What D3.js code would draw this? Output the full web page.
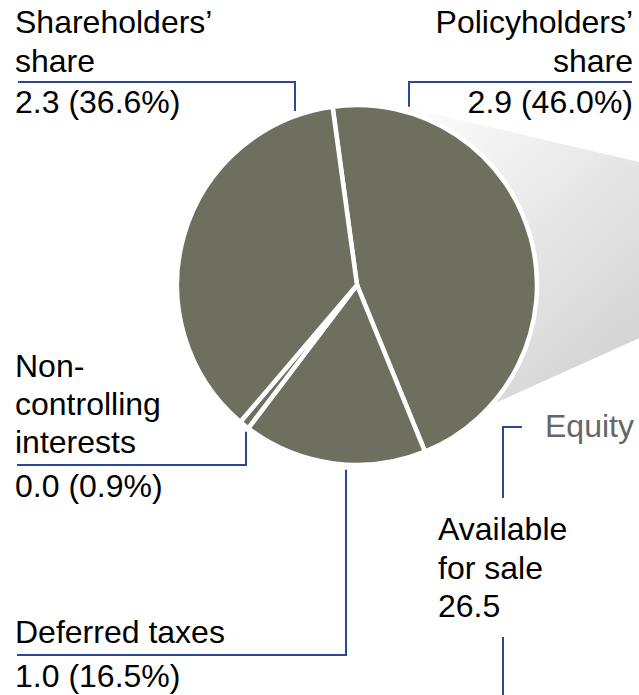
<!DOCTYPE html>
<html>
<head>
<meta charset="utf-8">
<script src="https://cdn.jsdelivr.net/npm/d3@7"></script>
<style>
  body { margin: 0; background: #fff; }
  text { font-family: "Liberation Sans", Arial, sans-serif; }
</style>
</head>
<body>
<div id="chart"></div>
<script>
// 1: DATA
const categories = ["Policyholders’ share", "Deferred taxes", "Non-controlling interests", "Shareholders’ share"];
const values = [2.9, 1.0, 0.0, 2.3];
const shares = [46.0, 16.5, 0.9, 36.6];
const equityLabel = "Equity";
const afsLabel = ["Available", "for sale"];
const afsValue = 26.5;

// 2: LAYOUT
const width = 639, height = 695;
const cx = 357, cy = 285, r = 180;
const pieColor = "#6e6f5f";
const lineColor = "#2b4796";
const fontSize = 32;

const svg = d3.select("#chart").append("svg")
    .attr("width", width)
    .attr("height", height);

// gradient "funnel" toward the equity bar (off to the right)
const defs = svg.append("defs");
const grad = defs.append("linearGradient")
    .attr("id", "funnel")
    .attr("gradientUnits", "userSpaceOnUse")
    .attr("x1", 420).attr("y1", 100)
    .attr("x2", 640).attr("y2", 340);
grad.append("stop").attr("offset", 0).attr("stop-color", "#fdfdfd");
grad.append("stop").attr("offset", 1).attr("stop-color", "#d4d4d4");

const lineTop = x => 127 + (x - 490) * 0.235;
const lineBot = x => 400 - (x - 502) * 0.45;
const farX = 720;
svg.append("path")
    .attr("d", d3.line()([
        [cx, cy],
        [395, lineTop(395)],
        [farX, lineTop(farX)],
        [farX, lineBot(farX)],
        [480, lineBot(480)]
    ]) + "Z")
    .attr("fill", "url(#funnel)");

// 3: PIE
const pie = d3.pie()
    .sort(null)
    .startAngle(-7.8 * Math.PI / 180)
    .endAngle(-7.8 * Math.PI / 180 + 2 * Math.PI);
const arcs = pie(shares);
const arc = d3.arc().innerRadius(0).outerRadius(r);

const g = svg.append("g").attr("transform", `translate(${cx},${cy})`);
g.selectAll("path.slice")
    .data(arcs)
    .enter()
    .append("path")
    .attr("class", "slice")
    .attr("d", arc)
    .attr("fill", pieColor)
    .attr("stroke", "#fff")
    .attr("stroke-width", 4.5)
    .attr("stroke-linejoin", "round");

// 4: LABELS
const fmt = d3.format(".1f");
const valueText = i => `${fmt(values[i])} (${fmt(shares[i])}%)`;

function lines(xs, ys, anchor, linesArr, fill) {
    const t = svg.append("text")
        .attr("text-anchor", anchor)
        .style("font-size", fontSize + "px")
        .attr("fill", fill || "#000");
    linesArr.forEach((s, k) => {
        t.append("tspan").attr("x", xs).attr("y", ys[k]).text(s);
    });
}

function leader(pts) {
    svg.append("path")
        .attr("d", d3.line()(pts))
        .attr("fill", "none")
        .attr("stroke", lineColor)
        .attr("stroke-width", 2);
}

// y on the circle for a given x (top or bottom half)
const edgeY = (x, top) => cy + (top ? -1 : 1) * Math.sqrt(r * r - (x - cx) * (x - cx));

// Shareholders' share (index 3)
lines(15, [33, 72], "start", ["Shareholders’", "share"]);
lines(15, [113], "start", [valueText(3)]);
leader([[18, 82], [295, 82], [295, edgeY(295, true) - 5]]);

// Policyholders' share (index 0)
lines(633, [33, 72], "end", ["Policyholders’", "share"]);
lines(633, [113], "end", [valueText(0)]);
leader([[632, 82], [409, 82], [409, edgeY(409, true) - 6]]);

// Non-controlling interests (index 2)
lines(15, [377, 415, 453], "start", ["Non-", "controlling", "interests"]);
lines(15, [497], "start", [valueText(2)]);
leader([[17, 465], [246, 465], [246, edgeY(246, false) + 5]]);

// Deferred taxes (index 1)
lines(15, [643], "start", ["Deferred taxes"]);
lines(15, [687], "start", [valueText(1)]);
leader([[17, 655], [346, 655], [346, edgeY(346, false) + 5]]);

// Equity / Available for sale
lines(545, [437], "start", [equityLabel], "#666666");
leader([[522, 427], [503, 427], [503, 498]]);
lines(438, [540, 579, 617], "start", [...afsLabel, fmt(afsValue)]);
leader([[503, 637], [503, 700]]);
</script>
</body>
</html>
